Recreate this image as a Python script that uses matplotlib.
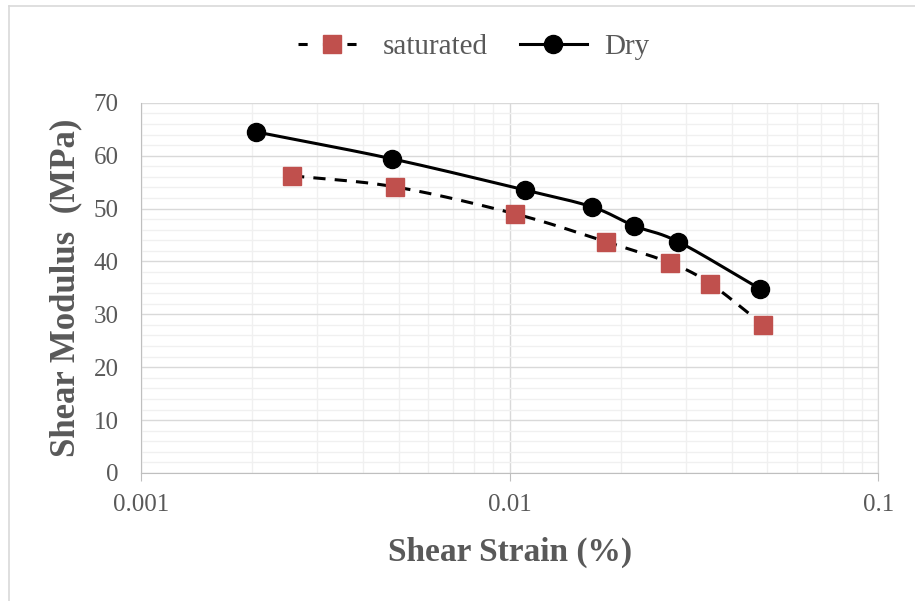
import numpy as np
import matplotlib
matplotlib.use('Agg')
from matplotlib import pyplot as plt
from matplotlib.lines import Line2D

# values
dry_strain = [0.00205, 0.0048, 0.0110, 0.01675, 0.0218, 0.0287, 0.0478]
dry_modulus = [64.5, 59.4, 53.5, 50.3, 46.7, 43.7, 34.8]
sat_strain = [0.00257, 0.00489, 0.01035, 0.0183, 0.0273, 0.035, 0.0487]
sat_modulus = [56.2, 54.1, 49.0, 43.7, 39.7, 35.8, 28.0]
x_ticks = [0.001, 0.01, 0.1]
x_tick_labels = ['0.001', '0.01', '0.1']
y_ticks = [0, 10, 20, 30, 40, 50, 60, 70]

plt.rcParams['font.family'] = ['Liberation Serif', 'DejaVu Serif']
grey = '#595959'
red = '#c0504d'


def smooth(xs, ys, n=30):
    # catmull-rom curve through the points, in log-x space (like excel "smoothed line")
    lx = np.log10(xs)
    ys = np.asarray(ys, float)
    px = np.concatenate([[2 * lx[0] - lx[1]], lx, [2 * lx[-1] - lx[-2]]])
    py = np.concatenate([[2 * ys[0] - ys[1]], ys, [2 * ys[-1] - ys[-2]]])
    out_x, out_y = [], []
    t = np.linspace(0, 1, n)
    for i in range(1, len(px) - 2):
        for p, o in ((px, out_x), (py, out_y)):
            p0, p1, p2, p3 = p[i - 1], p[i], p[i + 1], p[i + 2]
            o.extend(0.5 * (2 * p1 + (-p0 + p2) * t + (2 * p0 - 5 * p1 + 4 * p2 - p3) * t ** 2
                            + (-p0 + 3 * p1 - 3 * p2 + p3) * t ** 3))
    return 10 ** np.array(out_x), np.array(out_y)


fig = plt.figure(figsize=(9.15, 6.01), dpi=100)
ax = fig.add_axes([0.154, 0.213, 0.806, 0.616])

# light border on the left and top only
bx, by = 8.5 / 915, 1 - 5.5 / 601
fig.add_artist(Line2D([bx, bx], [0, by], transform=fig.transFigure, color='#d9d9d9', lw=1.2))
fig.add_artist(Line2D([bx, 1], [by, by], transform=fig.transFigure, color='#d9d9d9', lw=1.2))

sx, sy = smooth(sat_strain, sat_modulus)
ax.plot(sx, sy, color='black', lw=2.2, ls=(0, (4, 3)), zorder=3)
ax.plot(sat_strain, sat_modulus, ls='none', marker='s', ms=13, color=red, zorder=4)
dx, dy = smooth(dry_strain, dry_modulus)
ax.plot(dx, dy, color='black', lw=2.2, zorder=3)
ax.plot(dry_strain, dry_modulus, ls='none', marker='o', ms=13, color='black', zorder=4)

# legend proxies
ax.plot([], [], color='black', lw=2.2, ls=(0, (3, 5)), marker='s', ms=13,
        mfc=red, mec=red, label='saturated')
ax.plot([], [], color='black', lw=2.2, marker='o', ms=13, label='Dry')

ax.set_xscale('log')
ax.set_xlim(0.001, 0.1)
ax.set_ylim(0, 70)
ax.set_xticks(x_ticks)
ax.set_xticklabels(x_tick_labels)
ax.set_yticks(y_ticks)
ax.set_yticks(np.arange(0, 71, 2), minor=True)
ax.xaxis.set_minor_formatter(matplotlib.ticker.NullFormatter())
ax.grid(True, which='major', color='#d9d9d9', lw=1)
ax.grid(True, which='minor', color='#f0f0f0', lw=1)
ax.set_axisbelow(True)
ax.tick_params(axis='x', which='major', length=6, color='#bfbfbf', labelsize=18,
               labelcolor=grey, pad=9)
ax.tick_params(axis='x', which='minor', length=0)
ax.tick_params(axis='y', which='both', length=0, labelsize=18, labelcolor=grey, pad=16)
ax.spines['top'].set_visible(False)
ax.spines['left'].set_color('#bfbfbf')
ax.spines['bottom'].set_color('#bfbfbf')
ax.spines['right'].set_color('#d9d9d9')

ax.set_xlabel('Shear Strain (%)', fontsize=24, fontweight='bold', color=grey, labelpad=15)
ax.set_ylabel('Shear Modulus  (MPa)', fontsize=25, fontweight='bold', color=grey, labelpad=8)

fig.legend(loc='center', bbox_to_anchor=(0.518, 0.922), ncol=2, frameon=False,
           fontsize=21, handlelength=2.3, handletextpad=0.6, columnspacing=1.1,
           labelcolor=grey)

fig.savefig('out.png', dpi=100)
